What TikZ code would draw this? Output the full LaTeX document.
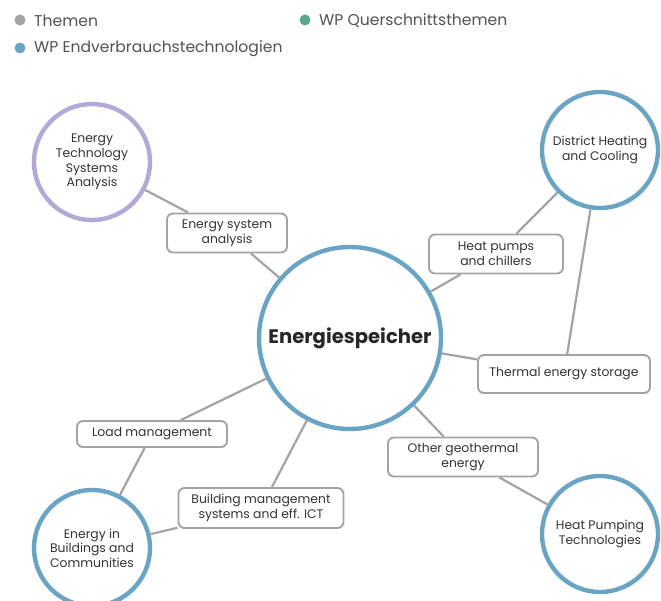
\documentclass[tikz,border=0pt]{standalone}
\usepackage{fontspec}
\setmainfont{Poppins}
\begin{document}
\definecolor{wpblue}{HTML}{6AA4C5}
\definecolor{wppurple}{HTML}{B3A8D6}
\definecolor{wpgreen}{HTML}{5BA98B}
\definecolor{linegray}{HTML}{A3A3A5}
\definecolor{txt}{HTML}{333333}
\begin{tikzpicture}[x=1pt,y=-1pt,
  topic/.style={circle, draw=wpblue, line width=4.4pt, fill=white, minimum size=116pt,
    inner sep=0pt, align=center, text=txt, font=\fontsize{12.4}{14.6}\selectfont},
  hub/.style={topic, minimum size=182pt, text=black!85, font=\fontsize{19.6}{24}\selectfont\bfseries},
  tag/.style={draw=linegray, line width=1.9pt, rounded corners=6pt, fill=white,
    align=center, text=txt, inner sep=0pt, font=\fontsize{12.4}{14.6}\selectfont},
  link/.style={draw=linegray, line width=2.2pt},
  legdot/.style={circle, fill=#1, minimum size=11pt, inner sep=0pt},
  legtext/.style={anchor=west, text=txt!85, font=\fontsize{15.6}{18}\selectfont, inner sep=0pt}]
\useasboundingbox (0,0) rectangle (661,601);

% legend
\node[legdot=linegray] (d1) at (20,20) {};
\node[legtext] (l1) at (34,20.5) {Themen};
\node[legdot=wpgreen] (d2) at (305,20) {};
\node[legtext] (l2) at (319,20.5) {WP Querschnittsthemen};
\node[legdot=wpblue] (d3) at (20,48) {};
\node[legtext] (l3) at (34,48.5) {WP Endverbrauchstechnologien};

% topic circles
\node[hub] (hub) at (350,338) {Energiespeicher};
\node[topic, draw=wppurple] (etsa) at (92,162) {Energy\\Technology\\Systems\\Analysis};
\node[topic] (dhc) at (600,150) {District Heating\\and Cooling};
\node[topic] (ebc) at (92,548) {Energy in\\Buildings and\\Communities};
\node[topic] (hpt) at (600,534) {Heat Pumping\\Technologies};

% linking tags
\node[tag, minimum width=120pt, minimum height=39pt] (esa) at (227,233) {Energy system\\analysis};
\node[tag, minimum width=134pt, minimum height=39pt] (hpc) at (496,254) {Heat pumps\\and chillers};
\node[tag, minimum width=172pt, minimum height=38pt] (tes) at (564,374) {Thermal energy storage};
\node[tag, minimum width=150pt, minimum height=39pt] (oge) at (463,457) {Other geothermal\\energy};
\node[tag, minimum width=150pt, minimum height=26pt] (lm) at (152,434) {Load management};
\node[tag, minimum width=165pt, minimum height=40pt] (bms) at (261,508) {Building management\\systems and eff. ICT};

% connectors between topics and tags
\draw[link] (etsa) -- (esa);
\draw[link] (esa) -- (hub);
\draw[link] (hub) -- (hpc);
\draw[link] (hpc) -- (dhc);
\draw[link] (dhc) -- (tes);
\draw[link] (hub) -- (tes);
\draw[link] (hub) -- (oge);
\draw[link] (oge) -- (hpt);
\draw[link] (hub) -- (lm);
\draw[link] (lm) -- (ebc);
\draw[link] (hub) -- (bms);
\draw[link] (bms) -- (ebc);
\end{tikzpicture}
\end{document}
